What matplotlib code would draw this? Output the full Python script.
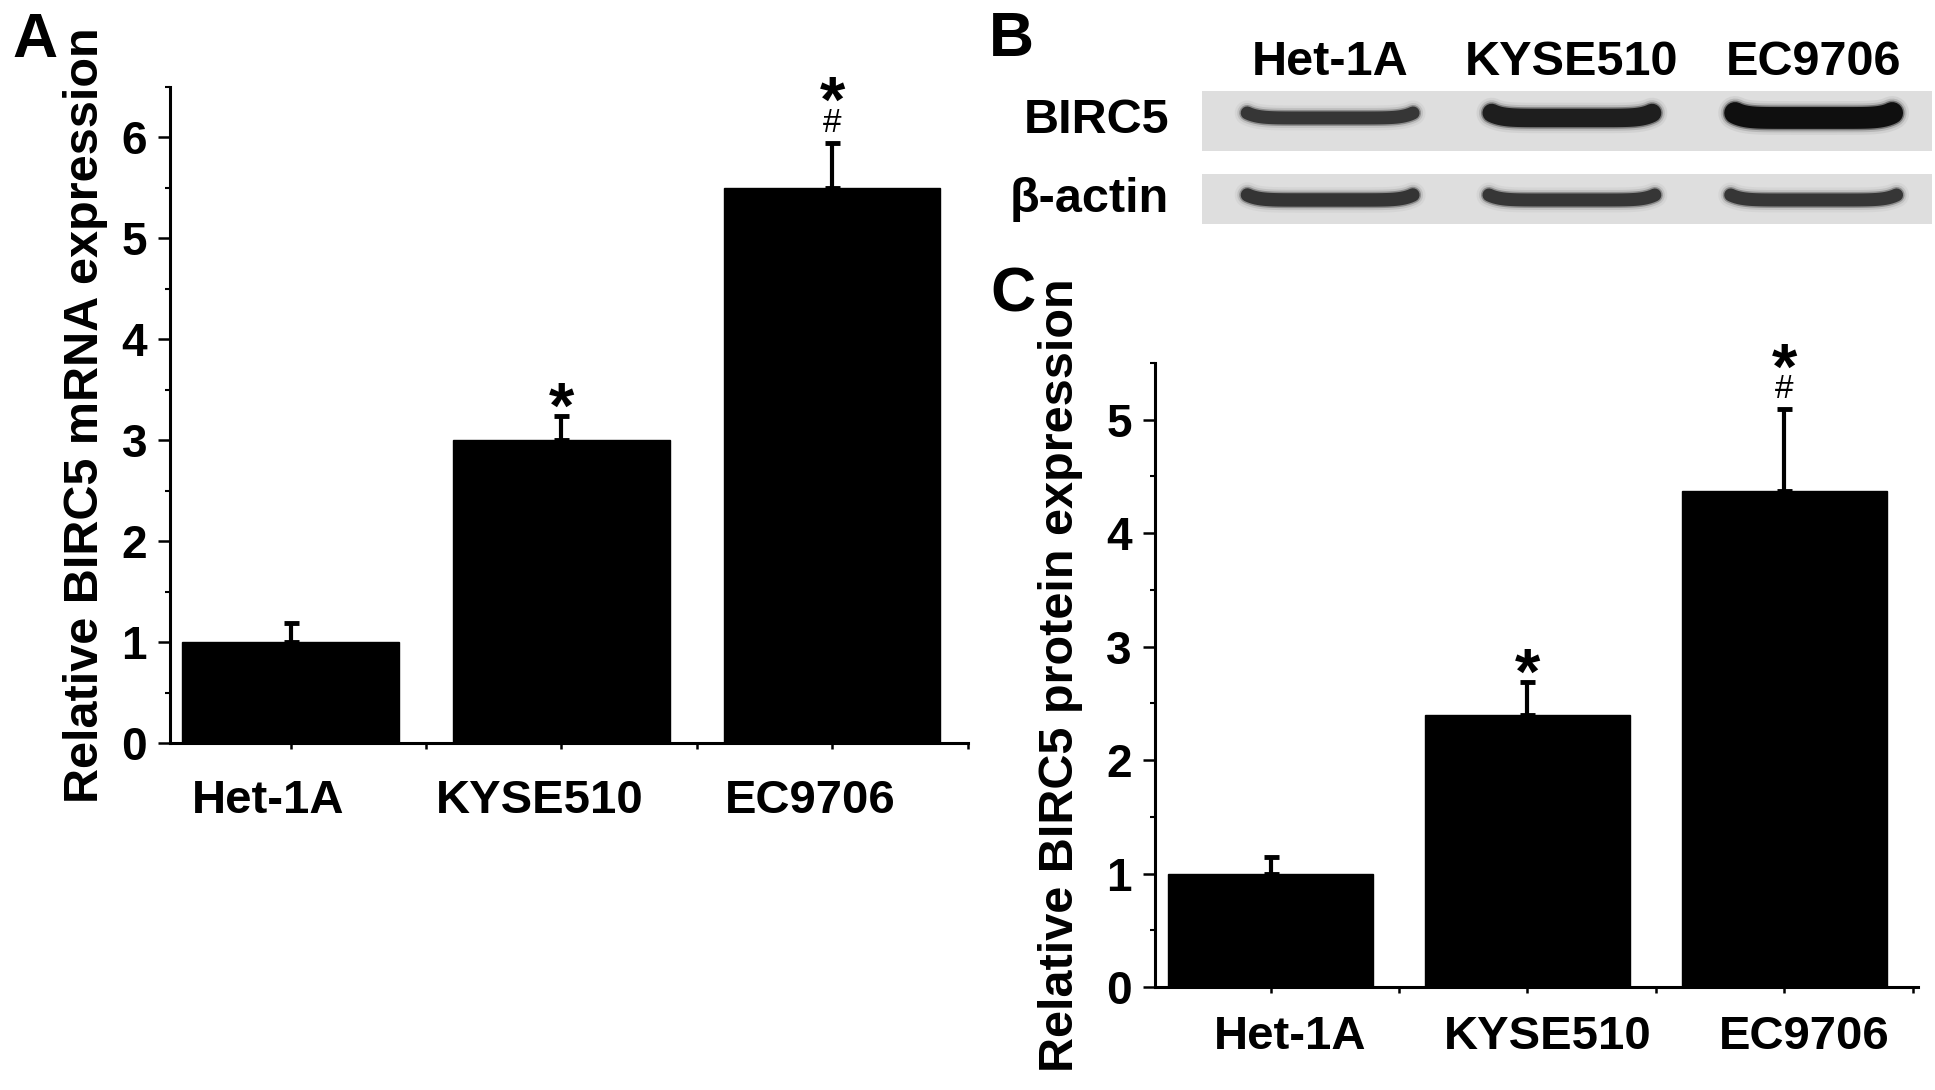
import numpy as np
import matplotlib.pyplot as plt
from matplotlib.ticker import MultipleLocator
from matplotlib.transforms import ScaledTranslation

plt.rcParams['font.family'] = ['Liberation Sans', 'DejaVu Sans']
plt.rcParams['font.weight'] = 'bold'
plt.rcParams['axes.labelweight'] = 'bold'

# cell lines
cells = ['Het-1A', 'KYSE510', 'EC9706']

# A: relative mRNA expression (mean, upper SD)
mrna_mean = [1.0, 3.0, 5.5]
mrna_err = [0.19, 0.24, 0.44]

# C: relative protein expression
protein_mean = [1.0, 2.4, 4.37]
protein_err = [0.15, 0.29, 0.72]

# significance marks: * vs Het-1A, # vs KYSE510
star = [False, True, True]
hash_mark = [False, False, True]

# B: western blot band intensities (0..1)
birc5_band = [0.6, 0.85, 1.0]
actin_band = [0.62, 0.6, 0.6]


def bar_panel(ax, means, errs, ymax, ylabel, label_dx, label_pad, label_x):
    x = np.arange(len(cells))
    ax.bar(x, means, width=0.8, color='black', edgecolor='black', zorder=2)
    ax.errorbar(x, means, yerr=[np.zeros(len(x)), errs], fmt='none',
                ecolor='black', elinewidth=3, capsize=5.4, capthick=3.5, zorder=3)
    for i in range(len(x)):
        top = means[i] + errs[i]
        if hash_mark[i]:
            ax.annotate('#', (x[i], top), xytext=(0, 20), textcoords='offset pixels',
                        ha='center', va='center', fontsize=24, fontweight='normal')
            ax.annotate('*', (x[i], top), xytext=(0, 38), textcoords='offset pixels',
                        ha='center', va='center', fontsize=47)
        elif star[i]:
            ax.annotate('*', (x[i], top), xytext=(0, 5), textcoords='offset pixels',
                        ha='center', va='center', fontsize=47)

    ax.set_xlim(-0.445, 2.5)
    ax.set_ylim(0, ymax)
    for s in ['top', 'right']:
        ax.spines[s].set_visible(False)
    for s in ['left', 'bottom']:
        ax.spines[s].set_linewidth(2.2)

    ax.set_xticks(x)
    ax.set_xticklabels(cells, fontsize=34)
    ax.xaxis.set_minor_locator(MultipleLocator(0.5))
    ax.yaxis.set_major_locator(MultipleLocator(1))
    ax.yaxis.set_minor_locator(MultipleLocator(0.5))
    ax.tick_params(axis='y', which='major', direction='out', length=8.6, width=1.8,
                   pad=8, labelsize=33)
    ax.tick_params(axis='y', which='minor', direction='out', length=3.5, width=1.5)
    ax.tick_params(axis='x', which='both', direction='out', length=4, width=1.8,
                   pad=label_pad)
    for lab in ax.get_xticklabels():
        lab.set_transform(lab.get_transform() +
                          ScaledTranslation(label_dx / 100, 0, ax.figure.dpi_scale_trans))

    ax.set_ylabel(ylabel, fontsize=35, fontweight='bold')
    ax.yaxis.set_label_coords(label_x, 0.5)


fig = plt.figure(figsize=(19.35, 10.9), dpi=100)

# panel A
ax_a = fig.add_axes([0.0879, 0.3183, 0.4121, 0.6023])
bar_panel(ax_a, mrna_mean, mrna_err, 6.5, 'Relative BIRC5 mRNA expression',
          label_dx=-22, label_pad=22, label_x=-0.078)

# panel C
ax_c = fig.add_axes([0.5969, 0.0945, 0.3943, 0.5725])
bar_panel(ax_c, protein_mean, protein_err, 5.5, 'Relative BIRC5 protein expression',
          label_dx=20, label_pad=16, label_x=-0.094)
ax_c.set_xlim(-0.45, 2.52)

# panel B: blot drawing, y in pixel-like units (downwards)
ax_b = fig.add_axes([0.6212, 0.7927, 0.3773, 0.1266])
ax_b.set_xlim(-0.53, 2.49)
ax_b.set_ylim(226, 88)
ax_b.axis('off')

strips = [(91, 151, 118, birc5_band), (174, 224, 200, actin_band)]
px_per_pt = 100 / 72
t = np.linspace(-1, 1, 60)
for y0, y1, yc, band in strips:
    ax_b.fill_between([-0.53, 2.49], y0, y1, color='#dedede', lw=0)
    for i, val in enumerate(band):
        thick = 13 + max(0, val - 0.6) * 22
        core = 0.42 - 0.38 * val
        half = 0.37 - thick / 2 / 241.7
        xs = i + half * t
        ys = yc - 5 * np.abs(t) ** 8
        for grow, alpha, g in [(12, 0.1, core + 0.35), (7, 0.2, core + 0.25),
                               (3, 0.45, core + 0.12), (0, 0.95, core)]:
            ax_b.plot(xs, ys, color=str(min(g, 1)), alpha=alpha,
                      lw=(thick + grow) / px_per_pt, solid_capstyle='round')

for i, name in enumerate(cells):
    ax_b.text(i, 75, name, ha='center', va='baseline', fontsize=35)
ax_b.text(-0.667, 121, 'BIRC5', ha='right', va='center', fontsize=35)
ax_b.text(-0.667, 200, 'β-actin', ha='right', va='center', fontsize=35)

# panel letters
fig.text(12 / 1935, 1 - 57 / 1090, 'A', fontsize=45, va='baseline')
fig.text(989 / 1935, 1 - 56 / 1090, 'B', fontsize=45, va='baseline')
fig.text(990 / 1935, 1 - 312 / 1090, 'C', fontsize=45, va='baseline')

fig.savefig('out.png', dpi=100)
